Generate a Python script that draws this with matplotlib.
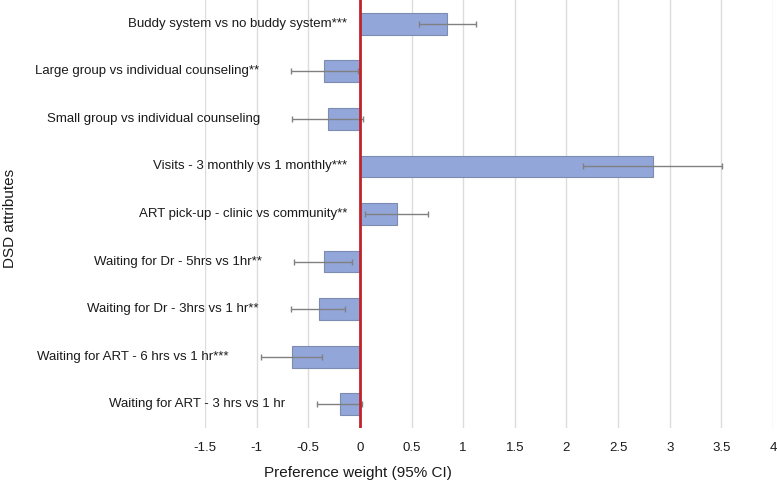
import numpy as np
import matplotlib
matplotlib.use("Agg")
import matplotlib.pyplot as plt

plt.rcParams["font.family"] = ["Liberation Sans", "DejaVu Sans"]

# 数据（从上到下）
attributes = [
    "Buddy system vs no buddy system***",
    "Large group vs individual counseling**",
    "Small group vs individual counseling",
    "Visits - 3 monthly vs 1 monthly***",
    "ART pick-up - clinic vs community**",
    "Waiting for Dr - 5hrs vs 1hr**",
    "Waiting for Dr - 3hrs vs 1 hr**",
    "Waiting for ART - 6 hrs vs 1 hr***",
    "Waiting for ART - 3 hrs vs 1 hr",
]
weights = np.array([0.84, -0.345, -0.31, 2.84, 0.355, -0.35, -0.40, -0.66, -0.19])
ci_low = np.array([0.57, -0.67, -0.66, 2.16, 0.05, -0.64, -0.67, -0.96, -0.415])
ci_high = np.array([1.12, -0.02, 0.03, 3.51, 0.66, -0.08, -0.145, -0.37, 0.025])
x_ticks = [-1.5, -1, -0.5, 0, 0.5, 1, 1.5, 2, 2.5, 3, 3.5, 4]

fig = plt.figure(figsize=(7.77, 4.84), dpi=100)
ax = fig.add_axes([205/777, 1-428/484, 568/777, 428/484])

y = np.arange(len(attributes))
xerr = np.vstack([weights - ci_low, ci_high - weights])
ax.barh(y, weights, height=0.46, color="#93a6da", edgecolor="#7d8bb0",
        linewidth=0.8, zorder=2)
ax.errorbar(weights, y, xerr=xerr, fmt="none", ecolor="#808080",
            elinewidth=1, capsize=2.2, capthick=1, zorder=3)
ax.axvline(0, color="#c0242b", lw=2, zorder=4)

# 类别标签：正值贴零线，负值贴误差线左端
for yi, v, lo, name in zip(y, weights, ci_low, attributes):
    if v > 0:
        ax.annotate(name, xy=(0, yi), xytext=(-9, 0), textcoords="offset points",
                    ha="right", va="center", fontsize=9.5, color="#1a1a1a",
                    annotation_clip=False)
    else:
        ax.annotate(name, xy=(lo, yi), xytext=(-23, 0), textcoords="offset points",
                    ha="right", va="center", fontsize=9.5, color="#1a1a1a",
                    annotation_clip=False)

ax.set_xlim(-1.5, 4)
ax.set_ylim(len(attributes) - 0.5, -0.5)
ax.set_xticks(x_ticks)
ax.set_xticklabels([f"{t:g}" for t in x_ticks], fontsize=9.5, color="#1a1a1a")
ax.set_yticks([])
ax.tick_params(axis="x", length=0, pad=10)
ax.grid(axis="x", color="#dcdcdc", lw=1, zorder=0)
ax.set_axisbelow(True)
for s in ax.spines.values():
    s.set_visible(False)

fig.text(358/777, 1-473/484, "Preference weight (95% CI)", ha="center", va="center",
         fontsize=11, color="#1a1a1a")
fig.text(10/777, 1-218/484, "DSD attributes", ha="center", va="center",
         rotation=90, fontsize=11, color="#1a1a1a")

plt.savefig("out.png", dpi=100)
